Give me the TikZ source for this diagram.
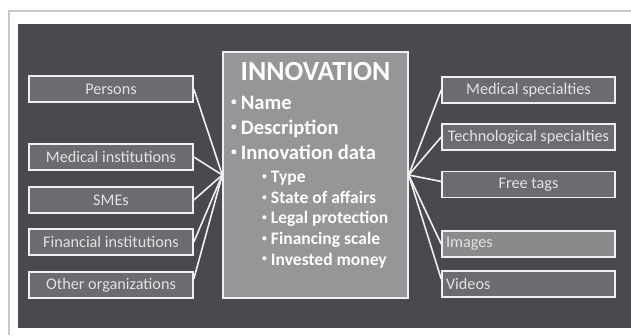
\documentclass[tikz,border=0pt]{standalone}
\usepackage{fontspec}
\setmainfont{Carlito}
\definecolor{backdrop}{RGB}{74, 73, 80}
\definecolor{mainfill}{RGB}{150, 150, 152}
\definecolor{sidefill}{RGB}{108, 108, 112}
\definecolor{imgfill}{RGB}{138, 138, 140}
\definecolor{frameline}{RGB}{200, 200, 200}
\definecolor{edge}{RGB}{240, 240, 240}
\definecolor{txt}{RGB}{226, 226, 226}
\newcommand{\itemdot}{\raisebox{0.18em}{\scalebox{0.55}{•}}\hspace{4pt}}

\begin{document}
\begin{tikzpicture}[x=1bp, y=-1bp]
    \tikzstyle{sideblock} = [rectangle, draw=edge, line width=1.6bp, fill=sidefill, text=txt,
    minimum height=26bp, inner sep=0pt, font=\fontsize{16.3}{18}\selectfont];
    \tikzstyle{lblock} = [sideblock, minimum width=164bp];
    \tikzstyle{rblock} = [sideblock, minimum width=173bp];
    \tikzstyle{flushblock} = [rblock, text width=165bp, inner xsep=4bp, align=left];
    \tikzstyle{mainblock} = [rectangle, draw=edge, line width=1.4bp, fill=mainfill,
    minimum width=185bp, minimum height=246bp];
    \tikzstyle{maintext} = [text=white, inner sep=0pt, anchor=north west, align=left];
    \tikzstyle{line} = [draw=edge, line width=1.6bp];

    \useasboundingbox (0,0) rectangle (631,335);
    % page frame and dark slide background
    \draw[frameline, line width=1.5bp] (9,335) -- (9,11) -- (631,11);
    \fill[backdrop] (18,24) rectangle (631,328);

    % central innovation record
    \node [mainblock] (innov) at (315.5,175) {};
    \node [text=white, inner sep=0pt, anchor=base, font=\bfseries\fontsize{27.8}{32}\selectfont]
      (title) at (315.5,80) {INNOVATION};
    \node [maintext, font=\bfseries\fontsize{20.7}{25}\selectfont] (mainlist) at (231,96)
      {\itemdot Name\\ \itemdot Description\\ \itemdot Innovation data};
    \node [maintext, font=\bfseries\fontsize{17.6}{20.7}\selectfont] (sublist) at (262,171)
      {\itemdot Type\\ \itemdot State of affairs\\ \itemdot Legal protection\\
       \itemdot Financing scale\\ \itemdot Invested money};

    % actors on the left
    \node [lblock] (persons) at (111,89) {Persons};
    \node [lblock] (medinst) at (111,157) {Medical institutions};
    \node [lblock] (smes) at (111,200) {SMEs};
    \node [lblock] (fininst) at (111,242) {Financial institutions};
    \node [lblock] (otherorg) at (111,285) {Other organizations};

    % classification and media on the right
    \node [rblock] (medspec) at (528.5,90) {Medical specialties};
    \node [rblock] (techspec) at (528.5,137) {Technological specialties};
    \node [rblock] (freetags) at (528.5,184.5) {Free tags};
    \node [flushblock, fill=imgfill] (images) at (528.5,244) {Images};
    \node [flushblock] (videos) at (528.5,284) {Videos};

    \tikzstyle{every path}=[line]
      % links into the record
      \draw (persons.east) -- (innov.west);
      \draw (medinst.east) -- (innov.west);
      \draw (smes.east) -- (innov.west);
      \draw (fininst.east) -- (innov.west);
      \draw ([yshift=6bp]otherorg.east) -- (innov.west);
      \draw (innov.east) -- (medspec.west);
      \draw (innov.east) -- (techspec.west);
      \draw (innov.east) -- ([yshift=3bp]freetags.west);
      \draw (innov.east) -- (images.west);
      \draw (innov.east) -- ([yshift=5bp]videos.west);
\end{tikzpicture}
\end{document}
